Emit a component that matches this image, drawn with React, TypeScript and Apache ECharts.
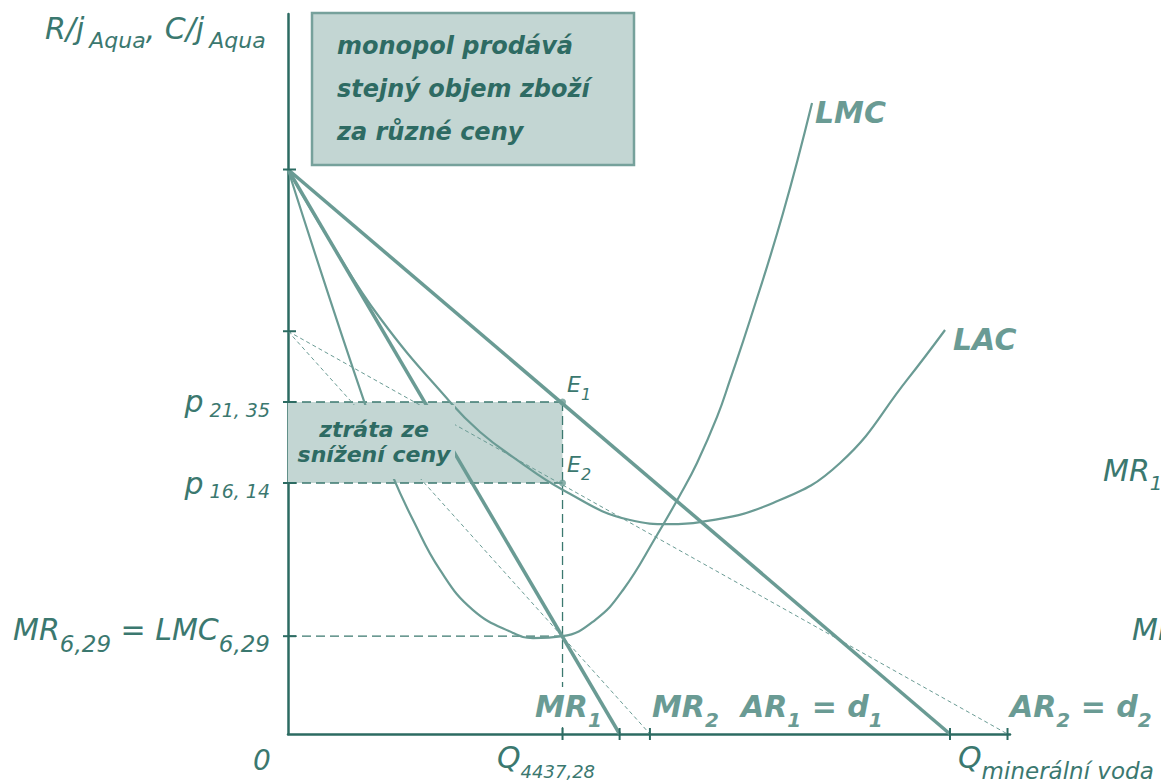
import React, { useEffect, useRef } from "react";
import * as echarts from "echarts";

// ---------------- data ----------------
const X_MAX = 11670;
const Y_MAX = 46.3;
const Q_EQ = 4437.28;
const P_HIGH = 21.35;
const P_LOW = 16.14;
const MR_EQ = 6.29;

const ar1Points = [[0, 36.3], [10700, 0]];
const mr1Points = [[0, 36.3], [5360, 0]];
const ar2Points = [[0, 25.9], [11630, 0]];
const mr2Points = [[0, 25.9], [5850, 0]];

const lmcPoints = [
  [0, 36.3], [1277, 20.84], [1697, 16.53], [2021, 13.76], [2457, 10.55],
  [2991, 7.97], [3637, 6.5], [3961, 6.17], [4437.28, 6.29], [4963, 7.33],
  [5415, 9.26], [5965, 12.8], [6337, 15.37], [6611, 17.43], [6935, 20.39],
  [7145, 22.77], [7468, 26.62], [8002, 33.5], [8470, 40.58],
];
const lacPoints = [
  [0, 36.3], [679, 31.7], [1487, 26.75], [2619, 21.35], [3104, 19.42],
  [3637, 17.81], [4445, 15.69], [5528, 13.76], [6175, 13.5], [6660, 13.63],
  [7840, 14.86], [8923, 17.43], [10006, 22.77], [10620, 25.98],
];

const yTickValues = [36.3, 25.9, P_HIGH, P_LOW, MR_EQ];
const xTickValues = [Q_EQ, 5360, 5850, 10700, 11630];
const yLabelValues = [P_HIGH, P_LOW, MR_EQ];
const yLabelTexts = [
  "{m|p}{s| 21, 35}",
  "{m|p}{s| 16, 14}",
  "{mu|MR}{s2|6,29}{mu| = LMC}{s2|6,29}",
];

// ---------------- styles ----------------
const FONT = "'DejaVu Sans', Verdana, sans-serif";
const AXIS = "#2c6b62";
const DARK = "#2e6b63";
const MID = "#3b786f";
const LIGHT = "#6a9b94";
const FILL = "#c3d6d3";

function richSet(color: string, weight: string, main: number, sub: number, pad: number) {
  return {
    m: { fontSize: main, fontStyle: "italic", fontWeight: weight, fontFamily: FONT, fill: color, lineHeight: main },
    s: { fontSize: sub, fontStyle: "italic", fontWeight: weight, fontFamily: FONT, fill: color, lineHeight: sub, padding: [pad, 0, 0, 0] },
  };
}

function label(x: number, y: number, text: string, rich: any, align = "left", z = 20) {
  return { type: "text", x, y, z, silent: true, style: { text, rich, align, verticalAlign: "middle" } };
}

function plain(x: number, y: number, text: string, size: number, color: string, weight: string, align = "left") {
  return {
    type: "text", x, y, z: 20, silent: true,
    style: { text, fontSize: size, fontStyle: "italic", fontWeight: weight, fontFamily: FONT, fill: color, align, verticalAlign: "middle" },
  };
}

function lineSeries(data: number[][], color: string, width: number, type: any, smooth: any = false, z = 3) {
  return {
    type: "line", data, showSymbol: false, smooth, z, silent: true,
    lineStyle: { color, width, type },
  };
}

export default function App() {
  const ref = useRef<HTMLDivElement>(null);
  useEffect(() => {
    const chart = echarts.init(ref.current!, undefined, { renderer: "svg", width: 1161, height: 783 });
    const titleRich = {
      m: { fontSize: 30, fontStyle: "italic", fontFamily: FONT, fill: MID, lineHeight: 30 },
      s: { fontSize: 22, fontStyle: "italic", fontFamily: FONT, fill: MID, lineHeight: 22, padding: [24, 0, 0, 5] },
    };
    const boldLight = richSet(LIGHT, "bold", 30, 20, 27);
    const eRich = richSet(MID, "normal", 22, 16, 20);
    const edgeRich = richSet(MID, "normal", 30, 20, 26);
    const qRich = {
      m: { fontSize: 30, fontStyle: "italic", fontFamily: FONT, fill: MID, lineHeight: 30 },
      s: { fontSize: 18, fontStyle: "italic", fontFamily: FONT, fill: MID, lineHeight: 18, padding: [28, 0, 0, 0] },
    };
    const q2Rich = {
      m: { fontSize: 30, fontStyle: "italic", fontFamily: FONT, fill: MID, lineHeight: 30 },
      s: { fontSize: 23, fontStyle: "italic", fontFamily: FONT, fill: MID, lineHeight: 23, padding: [26, 0, 0, 0] },
    };

    const option: any = {
      animation: false,
      textStyle: { fontFamily: FONT },
      grid: { left: 288, top: 14, right: 151, bottom: 49, containLabel: false },
      xAxis: {
        type: "value", min: 0, max: X_MAX,
        axisLine: { show: true, onZero: false, lineStyle: { color: AXIS, width: 2.5 } },
        axisTick: { show: false }, axisLabel: { show: false }, splitLine: { show: false },
      },
      yAxis: {
        type: "value", min: 0, max: Y_MAX,
        axisLine: { show: true, onZero: false, lineStyle: { color: AXIS, width: 2.5 } },
        axisTick: { show: false }, splitLine: { show: false },
        axisLabel: {
          show: true,
          customValues: yLabelValues,
          margin: 18,
          formatter: (v: number) => {
            let best = 0;
            yLabelValues.forEach((lv, i) => { if (Math.abs(lv - v) < Math.abs(yLabelValues[best] - v)) best = i; });
            return yLabelTexts[best];
          },
          rich: {
            m: { fontSize: 30, fontStyle: "italic", fontFamily: FONT, color: MID, lineHeight: 30 },
            mu: { fontSize: 30, fontStyle: "italic", fontFamily: FONT, color: MID, lineHeight: 30, padding: [0, 0, 13, 0] },
            s: { fontSize: 19, fontStyle: "italic", fontFamily: FONT, color: MID, lineHeight: 19, padding: [16, 0, 0, 0] },
            s2: { fontSize: 23, fontStyle: "italic", fontFamily: FONT, color: MID, lineHeight: 23, padding: [16, 0, 0, 0] },
          },
        },
      },
      series: [
        {
          type: "custom", z: 1, silent: true,
          data: [[0, P_LOW, Q_EQ, P_HIGH]],
          encode: { x: [0, 2], y: [1, 3] },
          renderItem: (_p: any, api: any) => {
            const a = api.coord([api.value(0), api.value(1)]);
            const b = api.coord([api.value(2), api.value(3)]);
            return { type: "rect", shape: { x: a[0], y: b[1], width: b[0] - a[0], height: a[1] - b[1] }, style: { fill: FILL } };
          },
        },
        lineSeries([[0, P_HIGH], [Q_EQ, P_HIGH]], MID, 1.5, [9, 5], false, 2),
        lineSeries([[0, P_LOW], [Q_EQ, P_LOW]], MID, 1.5, [9, 5], false, 2),
        lineSeries([[0, MR_EQ], [Q_EQ, MR_EQ]], MID, 1.3, [9, 5], false, 2),
        lineSeries([[Q_EQ, P_HIGH], [Q_EQ, 0]], MID, 1.3, [9, 5], false, 2),
        lineSeries(ar2Points, LIGHT, 1, [4, 3]),
        lineSeries(mr2Points, LIGHT, 1, [4, 3]),
        lineSeries(lacPoints, LIGHT, 2.2, "solid", 0.45),
        lineSeries(lmcPoints, LIGHT, 2.2, "solid", 0.45),
        lineSeries(ar1Points, LIGHT, 3.5, "solid"),
        lineSeries(mr1Points, LIGHT, 3.5, "solid"),
        {
          type: "scatter", z: 4, silent: true, symbol: "circle", symbolSize: 7,
          itemStyle: { color: LIGHT },
          data: [[Q_EQ, P_HIGH], [Q_EQ, P_LOW]],
        },
        {
          type: "custom", z: 6, silent: true,
          data: yTickValues.map((v) => [0, v]),
          renderItem: (_p: any, api: any) => {
            const c = api.coord([api.value(0), api.value(1)]);
            return { type: "line", shape: { x1: c[0] - 5, y1: c[1], x2: c[0] + 8, y2: c[1] }, style: { stroke: AXIS, lineWidth: 2 } };
          },
        },
        {
          type: "custom", z: 6, silent: true,
          data: xTickValues.map((v) => [v, 0]),
          renderItem: (_p: any, api: any) => {
            const c = api.coord([api.value(0), api.value(1)]);
            return { type: "line", shape: { x1: c[0], y1: c[1] - 6, x2: c[0], y2: c[1] + 6 }, style: { stroke: AXIS, lineWidth: 2 } };
          },
        },
      ],
      graphic: [
        // top annotation box
        { type: "rect", z: 15, silent: true, shape: { x: 312, y: 13, width: 322, height: 152 }, style: { fill: FILL, stroke: "#76a19b", lineWidth: 2.5 } },
        plain(337, 45.7, "monopol prodává", 24, DARK, "bold"),
        plain(337, 88.7, "stejný objem zboží", 24, DARK, "bold"),
        plain(337, 131.7, "za různé ceny", 24, DARK, "bold"),
        // loss box
        { type: "rect", z: 15, silent: true, shape: { x: 290, y: 405, width: 165, height: 74 }, style: { fill: FILL } },
        plain(374, 429.4, "ztráta ze", 22, DARK, "bold", "center"),
        plain(374, 454.4, "snížení ceny", 22, DARK, "bold", "center"),
        // hide guide under MR1 label
        { type: "rect", z: 15, silent: true, shape: { x: 556, y: 687, width: 14, height: 40 }, style: { fill: "#ffffff" } },
        // axis title
        label(45, 28, "{m|R/j}{s|Aqua}{m|, C/j}{s|Aqua}", titleRich),
        // curve labels
        plain(815, 112.6, "LMC", 30, LIGHT, "bold"),
        plain(953, 339.6, "LAC", 30, LIGHT, "bold"),
        label(567, 384.7, "{m|E}{s|1}", eRich),
        label(567, 464.7, "{m|E}{s|2}", eRich),
        label(535, 706.6, "{m|MR}{s|1}", boldLight),
        label(652, 706.6, "{m|MR}{s|2}", boldLight),
        label(741, 706.6, "{m|AR}{s|1}{m| = d}{s|1}", boldLight),
        label(1010, 706.6, "{m|AR}{s|2}{m| = d}{s|2}", boldLight),
        label(1103, 470, "{m|MR}{s|1}", edgeRich),
        label(1132, 629.6, "{m|MR}{s|2}", edgeRich),
        // axis labels
        plain(253, 760, "0", 28, MID, "normal"),
        label(497, 757.6, "{m|Q}{s|4437,28}", qRich),
        label(958, 757.6, "{m|Q}{s|minerální voda}", q2Rich),
      ],
    };
    chart.setOption(option);
    return () => chart.dispose();
  }, []);
  return (
    <div
      ref={ref}
      style={{ position: "fixed", left: 0, top: 0, width: 1161, height: 783, background: "#ffffff" }}
    />
  );
}
